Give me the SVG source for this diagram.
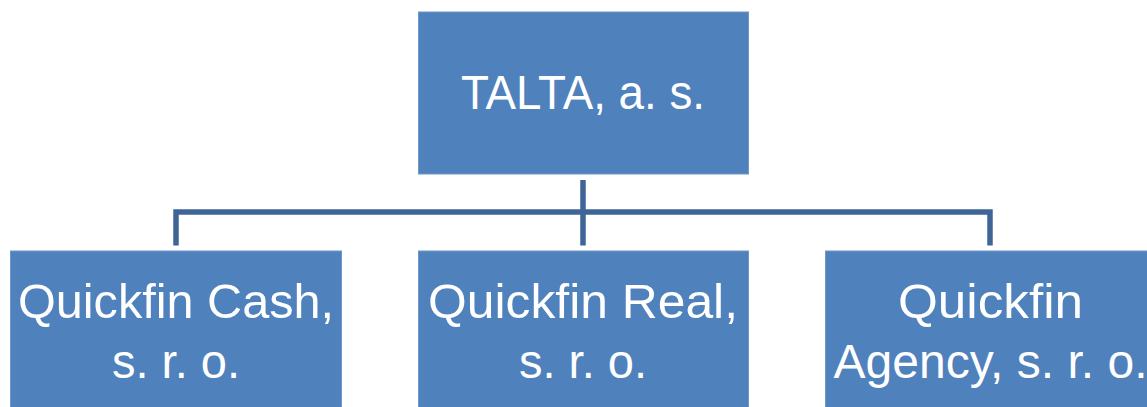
<svg xmlns="http://www.w3.org/2000/svg" width="1147" height="407" viewBox="0 0 1147 407">
  <style>
    .box { fill: #4F81BD; stroke: #6F97C8; stroke-width: 1; }
    .label { font-family: "Liberation Sans", Arial, sans-serif; font-size: 48px; fill: #FFFFFF; text-anchor: middle; }
    .link { fill: none; stroke: #3F6596; stroke-width: 5.5; stroke-linejoin: miter; stroke-linecap: butt; }
  </style>
  <rect width="1147" height="407" fill="#FFFFFF"/>

  <!-- connectors -->
  <g id="connectors">
    <path class="link" d="M583 180 V245.5"/>
    <path class="link" d="M176 245.5 V212 H990 V245.5"/>
  </g>

  <!-- parent -->
  <g id="talta">
    <rect class="box" x="418.5" y="12" width="330" height="162"/>
    <text class="label" x="583" y="109" textLength="244" lengthAdjust="spacingAndGlyphs">TALTA, a. s.</text>
  </g>

  <!-- subsidiaries -->
  <g id="quickfin-cash">
    <rect class="box" x="10.5" y="251" width="331" height="160"/>
    <text class="label" x="176" y="318" textLength="316" lengthAdjust="spacingAndGlyphs">Quickfin Cash,</text>
    <text class="label" x="176" y="378" textLength="128" lengthAdjust="spacingAndGlyphs">s. r. o.</text>
  </g>

  <g id="quickfin-real">
    <rect class="box" x="418.5" y="251" width="330" height="160"/>
    <text class="label" x="583" y="318" textLength="310" lengthAdjust="spacingAndGlyphs">Quickfin Real,</text>
    <text class="label" x="583" y="378" textLength="128" lengthAdjust="spacingAndGlyphs">s. r. o.</text>
  </g>

  <g id="quickfin-agency">
    <rect class="box" x="825.5" y="251" width="331" height="160"/>
    <text class="label" x="990.5" y="318" textLength="185" lengthAdjust="spacingAndGlyphs">Quickfin</text>
    <text class="label" x="990.5" y="378" textLength="314" lengthAdjust="spacingAndGlyphs">Agency, s. r. o.</text>
  </g>
</svg>
